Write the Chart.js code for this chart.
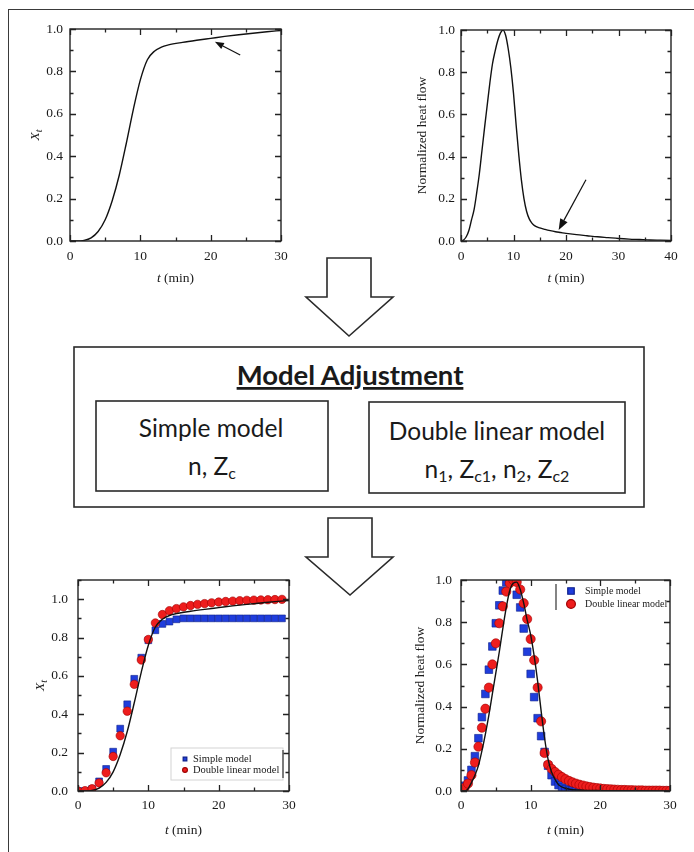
<!DOCTYPE html>
<html>
<head>
<meta charset="utf-8">
<script src="https://cdn.jsdelivr.net/npm/chart.js@4.4.1/dist/chart.umd.min.js"></script>
<style>
    body { margin: 0; background: #fff; }
    #page { position: relative; width: 694px; height: 852px; overflow: hidden; background: #fff; }
    #page canvas { position: absolute; }
    #frame { position: absolute; left: 8px; top: 9px; width: 720px; height: 900px; border: 1.5px solid #3a3a3a; }
    #diagram { position: absolute; left: 0; top: 0; }
</style>
</head>
<body>
<div id="page">
    <div id="frame"></div>
    <svg id="diagram" width="694" height="852" font-family="Lato, 'Open Sans', sans-serif" fill="#1a1a1a">
        <polygon points="327,258 371,258 371,297 393,297 349,336 306,297 327,297" fill="#fff" stroke="#2a2a2a" stroke-width="1.6"/>
        <polygon points="328,518 372,518 372,557 393,557 350,595 306,557 328,557" fill="#fff" stroke="#2a2a2a" stroke-width="1.6"/>
        <rect x="74" y="347" width="570" height="160" fill="none" stroke="#2a2a2a" stroke-width="1.6"/>
        <rect x="96" y="401" width="232" height="90" fill="none" stroke="#2a2a2a" stroke-width="1.6"/>
        <rect x="369" y="402" width="256" height="91" fill="none" stroke="#2a2a2a" stroke-width="1.6"/>
        <text x="350" y="385" text-anchor="middle" font-size="27.5" font-weight="bold" text-decoration="underline">Model Adjustment</text>
        <text x="211" y="437" text-anchor="middle" font-size="24.5">Simple model</text>
        <text x="212" y="475" text-anchor="middle" font-size="24.5">n, Z<tspan font-size="16" dy="4">c</tspan></text>
        <text x="497" y="440" text-anchor="middle" font-size="24.5">Double linear model</text>
        <text x="497" y="478" text-anchor="middle" font-size="24.5">n<tspan font-size="16" dy="4">1</tspan><tspan dy="-4">, Z</tspan><tspan font-size="16" dy="4">c1</tspan><tspan dy="-4">, n</tspan><tspan font-size="16" dy="4">2</tspan><tspan dy="-4">, Z</tspan><tspan font-size="16" dy="4">c2</tspan></text>
    </svg>
    <canvas id="convChart" width="306" height="292" style="left:0px; top:9px"></canvas>
    <canvas id="flowChart" width="305" height="291" style="left:391px; top:10px"></canvas>
    <canvas id="convFitChart" width="306" height="291" style="left:8px; top:560px"></canvas>
    <canvas id="flowFitChart" width="304" height="291" style="left:391px; top:560px"></canvas>
</div>

<script>
// measured relative crystallinity (top left, also the line in the bottom left)
const convTime = [0, 1, 2, 3, 4, 5, 6, 7, 8, 9, 10, 11, 12, 13, 14, 16, 18, 20, 22, 24, 26, 28, 30];
const convExp = [0, 0, 0.003, 0.015, 0.045, 0.1, 0.19, 0.31, 0.46, 0.62, 0.76, 0.855, 0.895, 0.915, 0.925, 0.937, 0.947, 0.956, 0.965, 0.973, 0.98, 0.987, 0.993];

// measured normalized heat flow (top right)
const flowTime = [0, 0.5, 1, 1.5, 2, 2.5, 3, 3.5, 4, 4.5, 5, 5.5, 6, 6.5, 7, 7.5, 8, 8.5, 9, 9.5, 10, 10.5, 11, 11.5, 12, 12.5, 13, 13.5, 14, 15, 16, 17, 18, 19, 20, 22, 24, 26, 28, 30, 32, 34, 36, 38, 40];
const flowExp = [0, 0.005, 0.02, 0.05, 0.1, 0.15, 0.23, 0.32, 0.43, 0.54, 0.645, 0.75, 0.84, 0.9, 0.95, 0.985, 1.0, 0.975, 0.91, 0.82, 0.7, 0.55, 0.41, 0.29, 0.2, 0.14, 0.105, 0.085, 0.073, 0.062, 0.055, 0.049, 0.044, 0.04, 0.036, 0.03, 0.025, 0.02, 0.016, 0.012, 0.009, 0.007, 0.005, 0.004, 0.003];

// model fits for crystallinity (bottom left), one point per minute
const fitTimeA = [0, 1, 2, 3, 4, 5, 6, 7, 8, 9, 10, 11, 12, 13, 14, 15, 16, 17, 18, 19, 20, 21, 22, 23, 24, 25, 26, 27, 28, 29];
const simpleConv = [0, 0, 0.01, 0.05, 0.115, 0.205, 0.325, 0.452, 0.585, 0.695, 0.786, 0.838, 0.871, 0.883, 0.895, 0.9, 0.9, 0.9, 0.9, 0.9, 0.9, 0.9, 0.9, 0.9, 0.9, 0.9, 0.9, 0.9, 0.9, 0.9];
const doubleConv = [0, 0.002, 0.012, 0.042, 0.095, 0.18, 0.288, 0.416, 0.556, 0.683, 0.79, 0.876, 0.92, 0.94, 0.951, 0.96, 0.967, 0.973, 0.977, 0.981, 0.985, 0.988, 0.99, 0.992, 0.994, 0.995, 0.996, 0.997, 0.998, 0.999];

// measured heat flow under the fits (bottom right)
const flowTimeB = [0, 0.5, 1, 1.5, 2, 2.5, 3, 3.5, 4, 4.5, 5, 5.5, 6, 6.5, 7, 7.5, 8, 8.5, 9, 9.5, 10, 10.5, 11, 11.5, 12, 12.5, 13, 13.5, 14, 15, 16, 18, 20, 25, 30];
const flowExpB = [0, 0, 0.01, 0.04, 0.075, 0.12, 0.19, 0.27, 0.36, 0.46, 0.56, 0.66, 0.77, 0.87, 0.95, 0.985, 0.99, 0.955, 0.89, 0.81, 0.74, 0.64, 0.52, 0.38, 0.25, 0.15, 0.09, 0.055, 0.03, 0.013, 0.006, 0.003, 0.002, 0.001, 0];

// model fits for heat flow (bottom right), one point per half minute
const fitTimeB = [0, 0.5, 1, 1.5, 2, 2.5, 3, 3.5, 4, 4.5, 5, 5.5, 6, 6.5, 7, 7.5, 8, 8.5, 9, 9.5, 10, 10.5, 11, 11.5, 12, 12.5, 13, 13.5, 14, 14.5, 15, 15.5, 16, 16.5, 17, 17.5, 18, 18.5, 19, 19.5, 20, 20.5, 21, 21.5, 22, 22.5, 23, 23.5, 24, 24.5, 25, 25.5, 26, 26.5, 27, 27.5, 28, 28.5, 29, 29.5, 30];
const simpleFlow = [0.005, 0.025, 0.05, 0.1, 0.165, 0.25, 0.35, 0.46, 0.575, 0.685, 0.795, 0.88, 0.95, 0.99, 1.0, 1.0, 0.93, 0.87, 0.77, 0.66, 0.555, 0.445, 0.345, 0.26, 0.185, 0.12, 0.075, 0.045, 0.028, 0.016, 0.009, 0.005, 0.003, 0.002, 0.001, 0, 0, 0, 0, 0, 0, 0, 0, 0, 0, 0, 0, 0, 0, 0, 0, 0, 0, 0, 0, 0, 0, 0, 0, 0, 0];
const doubleFlow = [0.005, 0.015, 0.035, 0.075, 0.135, 0.21, 0.3, 0.39, 0.49, 0.6, 0.7, 0.795, 0.875, 0.945, 0.985, 1.0, 0.99, 0.955, 0.89, 0.815, 0.72, 0.62, 0.49, 0.33, 0.18, 0.125, 0.105, 0.09, 0.077, 0.066, 0.056, 0.048, 0.041, 0.035, 0.03, 0.026, 0.022, 0.019, 0.016, 0.014, 0.012, 0.01, 0.009, 0.008, 0.007, 0.006, 0.005, 0.005, 0.004, 0.004, 0.003, 0.003, 0.003, 0.002, 0.002, 0.002, 0.002, 0.002, 0.001, 0.001, 0.001];

const seriesLabels = ["Simple model", "Double linear model"];

const serif = "'Liberation Serif', 'Times New Roman', serif";
const inkColor = "#1a1a1a";
const blueFill = "#1f3ddc";
const redFill = "#ee1d1d";

function toPoints(xs, ys) {
    return xs.map((x, i) => ({ x: x, y: ys[i] }));
}

// draws a text made of styled pieces centred on (cx, cy)
function drawRich(ctx, parts, cx, cy, size) {
    const fonts = parts.map(p => (p.italic ? "italic " : "") + (p.sub ? size * 0.75 : size) + "px " + serif);
    let total = 0;
    const widths = parts.map((p, i) => {
        ctx.font = fonts[i];
        const w = ctx.measureText(p.text).width;
        total += w;
        return w;
    });
    let x = cx - total / 2;
    ctx.textAlign = "left";
    ctx.textBaseline = "middle";
    parts.forEach((p, i) => {
        ctx.font = fonts[i];
        ctx.fillText(p.text, x, cy + (p.sub ? size * 0.3 : 0));
        x += widths[i];
    });
}

// box around the plot with inward ticks on all four sides
const frameTicks = {
    id: "frameTicks",
    afterDatasetsDraw(chart, args, opts) {
        const { ctx, chartArea: a, scales } = chart;
        const x = scales.x, y = scales.y;
        ctx.save();
        ctx.strokeStyle = "#222";
        ctx.lineWidth = 1.4;
        ctx.strokeRect(a.left, a.top, a.right - a.left, a.bottom - a.top);
        ctx.lineWidth = 1.3;
        ctx.beginPath();
        for (let v = x.min; v <= x.max + 1e-9; v += opts.xMinor) {
            const major = Math.abs(v / opts.xMajor - Math.round(v / opts.xMajor)) < 1e-6;
            const len = major ? 6 : 3.5;
            const px = Math.round(x.getPixelForValue(v)) + 0.5;
            ctx.moveTo(px, a.bottom); ctx.lineTo(px, a.bottom - len);
            ctx.moveTo(px, a.top); ctx.lineTo(px, a.top + len);
        }
        for (let v = y.min; v <= y.max + 1e-9; v += opts.yMinor) {
            const major = Math.abs(v / opts.yMajor - Math.round(v / opts.yMajor)) < 1e-6;
            const len = major ? 6 : 3.5;
            const py = Math.round(y.getPixelForValue(v)) + 0.5;
            ctx.moveTo(a.left, py); ctx.lineTo(a.left + len, py);
            ctx.moveTo(a.right, py); ctx.lineTo(a.right - len, py);
        }
        ctx.stroke();
        ctx.restore();
    }
};

// axis titles with italic and subscript pieces
const axisTitles = {
    id: "axisTitles",
    afterDraw(chart, args, opts) {
        const { ctx, chartArea: a } = chart;
        ctx.save();
        ctx.fillStyle = inkColor;
        drawRich(ctx, opts.x, (a.left + a.right) / 2, a.bottom + opts.xOffset, 13.5);
        ctx.translate(a.left - opts.yOffset, (a.top + a.bottom) / 2);
        ctx.rotate(-Math.PI / 2);
        drawRich(ctx, opts.y, 0, 0, 13.5);
        ctx.restore();
    }
};

// pointer arrows given in data units
const dataArrows = {
    id: "dataArrows",
    afterDatasetsDraw(chart, args, opts) {
        if (!opts.list) return;
        const { ctx, scales: { x, y } } = chart;
        ctx.save();
        ctx.strokeStyle = "#111";
        ctx.fillStyle = "#111";
        ctx.lineWidth = 1.2;
        opts.list.forEach(arr => {
            const x0 = x.getPixelForValue(arr.from[0]), y0 = y.getPixelForValue(arr.from[1]);
            const x1 = x.getPixelForValue(arr.to[0]), y1 = y.getPixelForValue(arr.to[1]);
            const ang = Math.atan2(y1 - y0, x1 - x0);
            const hl = arr.head, hw = arr.head * 0.38;
            const bx = x1 - hl * Math.cos(ang), by = y1 - hl * Math.sin(ang);
            ctx.beginPath();
            ctx.moveTo(x0, y0); ctx.lineTo(bx, by);
            ctx.stroke();
            ctx.beginPath();
            ctx.moveTo(x1, y1);
            ctx.lineTo(bx + hw * Math.sin(ang), by - hw * Math.cos(ang));
            ctx.lineTo(bx - hw * Math.sin(ang), by + hw * Math.cos(ang));
            ctx.closePath();
            ctx.fill();
        });
        ctx.restore();
    }
};

// small legend placed inside the plot, rows follow seriesLabels
const insetLegend = {
    id: "insetLegend",
    afterDraw(chart, args, opts) {
        if (!opts.show) return;
        const { ctx, chartArea: a } = chart;
        ctx.save();
        if (opts.frame) {
            ctx.strokeStyle = "#d4d4d4";
            ctx.lineWidth = 1;
            ctx.strokeRect(a.left + opts.frame[0], a.top + opts.frame[1], opts.frame[2], opts.frame[3]);
        }
        if (opts.bar) {
            ctx.strokeStyle = "#333";
            ctx.lineWidth = 1.2;
            ctx.beginPath();
            ctx.moveTo(a.left + opts.bar[0], a.top + opts.bar[1]);
            ctx.lineTo(a.left + opts.bar[0], a.top + opts.bar[2]);
            ctx.stroke();
        }
        seriesLabels.forEach((label, row) => {
            const ds = chart.data.datasets.find(d => d.label === label);
            if (!ds) return;
            const py = a.top + opts.y + row * opts.rowGap;
            ctx.fillStyle = ds.backgroundColor;
            ctx.strokeStyle = ds.borderColor;
            Chart.helpers.drawPoint(ctx, { pointStyle: ds.pointStyle, radius: opts.radius[row], borderWidth: 0.6, rotation: 0 }, a.left + opts.x, py);
            ctx.fillStyle = inkColor;
            ctx.font = opts.fontSize + "px " + serif;
            ctx.textAlign = "left";
            ctx.textBaseline = "middle";
            ctx.fillText(label, a.left + opts.x + opts.textGap, py);
        });
        ctx.restore();
    }
};

function buildOptions(cfg) {
    return {
        responsive: false,
        animation: false,
        devicePixelRatio: 1,
        layout: { padding: { left: 30, top: 20, right: 25, bottom: 30 } },
        plugins: {
            legend: { display: false },
            tooltip: { enabled: false },
            frameTicks: { xMajor: 10, xMinor: 5, yMajor: 0.2, yMinor: 0.1 },
            axisTitles: { x: cfg.xTitle, y: cfg.yTitle, xOffset: cfg.xTitleOffset, yOffset: cfg.yTitleOffset },
            dataArrows: { list: cfg.arrows },
            insetLegend: cfg.legend || { show: false }
        },
        scales: {
            x: {
                type: "linear",
                min: 0,
                max: cfg.xMax,
                grid: { display: false, drawTicks: false },
                border: { display: false },
                ticks: {
                    stepSize: 10,
                    autoSkip: false,
                    maxRotation: 0,
                    padding: cfg.xTickPad,
                    color: inkColor,
                    font: { family: serif, size: 13.5 }
                },
                afterFit: s => { s.height = 30; }
            },
            y: {
                type: "linear",
                min: 0,
                max: cfg.yMax,
                grid: { display: false, drawTicks: false },
                border: { display: false },
                afterBuildTicks: s => { s.ticks = s.ticks.filter(t => t.value <= 1.0001); },
                ticks: {
                    stepSize: 0.2,
                    autoSkip: false,
                    padding: cfg.yTickPad,
                    color: inkColor,
                    font: { family: serif, size: 13.5 },
                    callback: v => v.toFixed(1)
                },
                afterFit: s => { s.width = 40; }
            }
        }
    };
}

function lineSet(xs, ys) {
    return {
        data: toPoints(xs, ys),
        showLine: true,
        borderColor: "#111",
        borderWidth: 1.4,
        pointRadius: 0,
        cubicInterpolationMode: "monotone",
        clip: 0
    };
}

function markerSet(label, xs, ys, style, radius, fill, edge) {
    return {
        label: label,
        data: toPoints(xs, ys),
        pointStyle: style,
        pointRadius: radius,
        backgroundColor: fill,
        borderColor: edge,
        pointBorderWidth: 0.6,
        clip: 0
    };
}

const plugins = [frameTicks, axisTitles, dataArrows, insetLegend];
const tTitle = [{ text: "t", italic: true }, { text: " (min)" }];
const xtTitle = [{ text: "X", italic: true }, { text: "t", italic: true, sub: true }];
const flowTitle = [{ text: "Normalized heat flow" }];

new Chart(document.getElementById("convChart"), {
    type: "scatter",
    data: { datasets: [lineSet(convTime, convExp)] },
    options: buildOptions({
        xMax: 30, yMax: 1.0, xTickPad: 7, yTickPad: 7,
        xTitle: tTitle, yTitle: xtTitle, xTitleOffset: 37, yTitleOffset: 35,
        arrows: [{ from: [24.2, 0.877], to: [20.6, 0.94], head: 9 }]
    }),
    plugins: plugins
});

new Chart(document.getElementById("flowChart"), {
    type: "scatter",
    data: { datasets: [lineSet(flowTime, flowExp)] },
    options: buildOptions({
        xMax: 40, yMax: 1.0, xTickPad: 7, yTickPad: 6,
        xTitle: tTitle, yTitle: flowTitle, xTitleOffset: 37, yTitleOffset: 39,
        arrows: [{ from: [23.8, 0.29], to: [18.6, 0.052], head: 11 }]
    }),
    plugins: plugins
});

new Chart(document.getElementById("convFitChart"), {
    type: "scatter",
    data: {
        datasets: [
            lineSet(convTime, convExp),
            markerSet(seriesLabels[1], fitTimeA, doubleConv, "circle", 4.2, redFill, "#a00000"),
            markerSet(seriesLabels[0], fitTimeA, simpleConv, "rect", 4.8, blueFill, "#0c1f8a")
        ]
    },
    options: buildOptions({
        xMax: 30, yMax: 1.1, xTickPad: 6, yTickPad: 10,
        xTitle: tTitle, yTitle: xtTitle, xTitleOffset: 39, yTitleOffset: 38,
        legend: { show: true, x: 107, y: 179, rowGap: 11, textGap: 8, fontSize: 10.5, radius: [2.6, 2.4], frame: [93, 168, 112, 32], bar: [205, 170, 198] }
    }),
    plugins: plugins
});

new Chart(document.getElementById("flowFitChart"), {
    type: "scatter",
    data: {
        datasets: [
            lineSet(flowTimeB, flowExpB),
            markerSet(seriesLabels[1], fitTimeB, doubleFlow, "circle", 4.6, redFill, "#a00000"),
            markerSet(seriesLabels[0], fitTimeB, simpleFlow, "rect", 5.4, blueFill, "#0c1f8a")
        ]
    },
    options: buildOptions({
        xMax: 30, yMax: 1.0, xTickPad: 6, yTickPad: 9,
        xTitle: tTitle, yTitle: flowTitle, xTitleOffset: 39, yTitleOffset: 41,
        legend: { show: true, x: 110, y: 11, rowGap: 13, textGap: 14, fontSize: 10, radius: [4.6, 4.4], bar: [95, 4, 30] }
    }),
    plugins: plugins
});
</script>
</body>
</html>
